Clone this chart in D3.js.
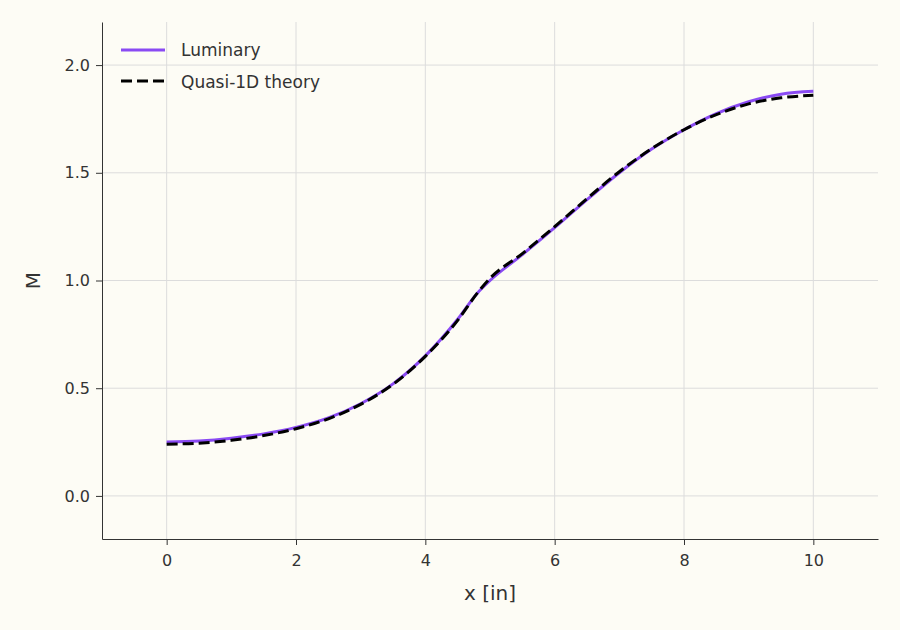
<!DOCTYPE html>
<html><head><meta charset="utf-8">
<script src="https://cdn.jsdelivr.net/npm/d3@7"></script>
<style>body{margin:0;background:#fdfcf5}svg,svg text{font-family:"DejaVu Sans",sans-serif}</style>
</head><body><svg id="c" width="900" height="630"></svg>
<script>
const xLum=[0,0.5,1,1.5,2,2.5,3,3.5,4,4.5,4.8,5,5.5,6,6.5,7,7.5,8,8.5,9,9.5,10];
const mLum=[0.25,0.255,0.268,0.288,0.318,0.362,0.428,0.52,0.65,0.82,0.94,1.0,1.12,1.245,1.375,1.5,1.61,1.70,1.775,1.83,1.865,1.878];
const xTh=[0,0.5,1,1.5,2,2.5,3,3.5,4,4.5,4.8,5,5.5,6,6.5,7,7.5,8,8.5,9,9.5,10];
const mTh=[0.24,0.245,0.258,0.28,0.312,0.358,0.425,0.518,0.648,0.815,0.94,1.01,1.125,1.25,1.38,1.505,1.612,1.70,1.77,1.82,1.848,1.86];
const xTicks=[0,2,4,6,8,10], yTicks=[0,0.5,1.0,1.5,2.0];
const svg=d3.select("#c");
const L=102,R=878,T=22,B=539;
const x=d3.scaleLinear().domain([-1,11]).range([L,R]);
const y=d3.scaleLinear().domain([-0.2,2.2]).range([B,T]);
const g=svg.append("g");
xTicks.forEach(t=>g.append("line").attr("x1",x(t)).attr("x2",x(t)).attr("y1",T).attr("y2",B).attr("stroke","#dcdcdc"));
yTicks.forEach(t=>g.append("line").attr("y1",y(t)).attr("y2",y(t)).attr("x1",L).attr("x2",R).attr("stroke","#dcdcdc"));
const xa=svg.append("g").attr("transform",`translate(0,${B})`).call(d3.axisBottom(x).tickValues(xTicks).tickFormat(d3.format("d")).tickSizeOuter(0));
const ya=svg.append("g").attr("transform",`translate(${L},0)`).call(d3.axisLeft(y).tickValues(yTicks).tickFormat(d3.format(".1f")).tickSizeOuter(0));
[xa,ya].forEach(a=>{a.attr("font-family","DejaVu Sans").attr("font-size",16);a.selectAll("text").attr("fill","#333");a.selectAll("line,path").attr("stroke","#333");});
xa.selectAll("text").attr("dy","1.1em");
ya.selectAll("text").attr("x",-12);
svg.append("text").attr("x",(L+R)/2).attr("y",600).attr("text-anchor","middle").attr("font-size",20).attr("fill","#333").text("x [in]");
svg.append("text").attr("transform",`translate(40,${(T+B)/2}) rotate(-90)`).attr("text-anchor","middle").attr("font-size",20).attr("fill","#333").text("M");
const line=d3.line().curve(d3.curveMonotoneX);
svg.append("path").attr("d",line(xLum.map((v,i)=>[x(v),y(mLum[i])]))).attr("fill","none").attr("stroke","#8a4af3").attr("stroke-width",3);
svg.append("path").attr("d",line(xTh.map((v,i)=>[x(v),y(mTh[i])]))).attr("fill","none").attr("stroke","#000").attr("stroke-width",3).attr("stroke-dasharray","11,5");
const lg=svg.append("g");
lg.append("line").attr("x1",121).attr("x2",165).attr("y1",50).attr("y2",50).attr("stroke","#8a4af3").attr("stroke-width",3);
lg.append("line").attr("x1",121).attr("x2",165).attr("y1",81).attr("y2",81).attr("stroke","#000").attr("stroke-width",3).attr("stroke-dasharray","11,5");
lg.append("text").attr("x",181).attr("y",56).attr("font-size",17).attr("fill","#333").text("Luminary");
lg.append("text").attr("x",181).attr("y",88).attr("font-size",17).attr("fill","#333").text("Quasi-1D theory");
</script></body></html>
